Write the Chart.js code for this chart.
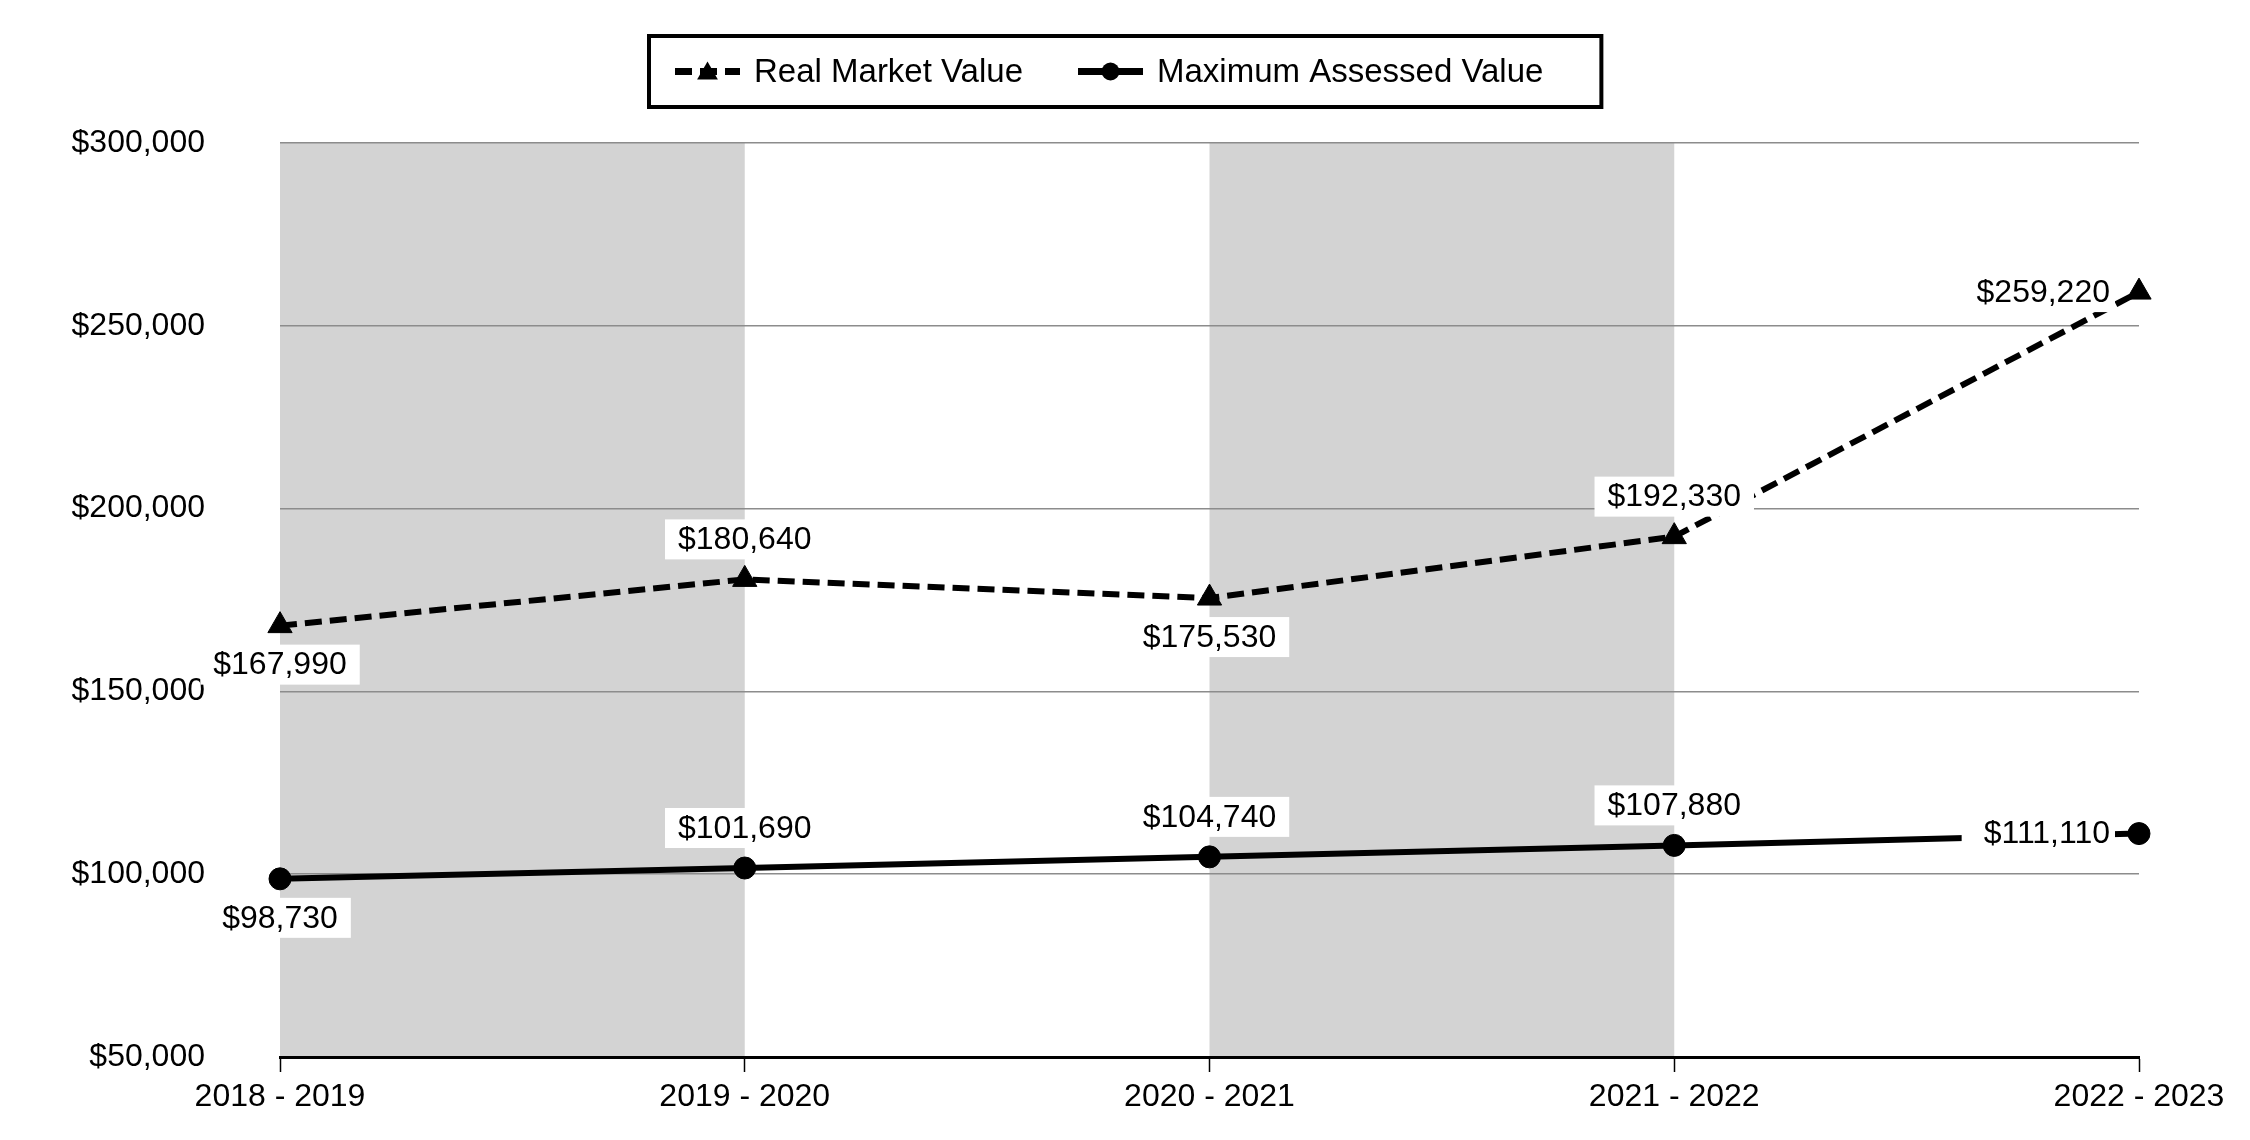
<!DOCTYPE html>
<html>
<head>
<meta charset="utf-8">
<script src="https://cdn.jsdelivr.net/npm/chart.js@4.4.1/dist/chart.umd.min.js"></script>
<style>
    html, body { margin: 0; padding: 0; background: #fff; }
    #wrap { width: 2250px; height: 1140px; }
</style>
</head>
<body>
<div id="wrap"><canvas id="valueChart" width="2250" height="1140"></canvas></div>
<script>
// Data yang dibaca dari gambar
const yearLabels = ['2018 - 2019', '2019 - 2020', '2020 - 2021', '2021 - 2022', '2022 - 2023'];
const realMarketValue = [167990, 180640, 175530, 192330, 259220];
const maxAssessedValue = [98730, 101690, 104740, 107880, 111110];
const yTicks = [50000, 100000, 150000, 200000, 250000, 300000];
// Kolom yang diberi latar abu-abu (indeks awal kolom)
const shadedBands = [0, 2];
// Letak label nilai untuk tiap titik
const rmvLabelPos = ['below', 'above', 'below', 'above', 'left'];
const mavLabelPos = ['below', 'above', 'above', 'above', 'left'];

const FONT = '"Liberation Sans", Arial, sans-serif';

function money(v) {
    return '$' + v.toLocaleString('en-US');
}

// Latar abu-abu selang-seling di belakang grid
const columnShading = {
    id: 'columnShading',
    beforeDraw(chart) {
        const { ctx, chartArea, scales: { x } } = chart;
        ctx.save();
        ctx.fillStyle = '#d3d3d3';
        shadedBands.forEach(i => {
            const x0 = x.getPixelForValue(i);
            const x1 = x.getPixelForValue(i + 1);
            ctx.fillRect(x0, chartArea.top, x1 - x0, chartArea.bottom - chartArea.top);
        });
        ctx.restore();
    }
};

// Label nilai dengan kotak putih
const valueLabels = {
    id: 'valueLabels',
    afterDatasetsDraw(chart) {
        const ctx = chart.ctx;
        ctx.save();
        ctx.font = '32px ' + FONT;
        ctx.textBaseline = 'middle';
        ctx.textAlign = 'center';
        chart.data.datasets.forEach((ds, di) => {
            const meta = chart.getDatasetMeta(di);
            meta.data.forEach((pt, i) => {
                const text = money(ds.data[i]);
                const w = ctx.measureText(text).width;
                const place = ds.labelPos[i];
                let cx = pt.x, cy = pt.y;
                let padL = 13, padR = 13;
                if (place === 'above') cy -= 40;
                else if (place === 'below') cy += 39;
                else if (place === 'left') {
                    cx = pt.x - 29 - w / 2;
                    padL = 22;
                    padR = 5;
                }
                ctx.fillStyle = '#fff';
                ctx.fillRect(cx - w / 2 - padL, cy - 20, w + padL + padR, 40);
                ctx.fillStyle = '#000';
                ctx.fillText(text, cx, cy + 1);
            });
        });
        ctx.restore();
    }
};

function drawMarker(ctx, style, x, y, r) {
    ctx.beginPath();
    if (style === 'triangle') {
        ctx.moveTo(x, y - r);
        ctx.lineTo(x + r * 0.866, y + r / 2);
        ctx.lineTo(x - r * 0.866, y + r / 2);
        ctx.closePath();
    } else {
        ctx.arc(x, y, r, 0, Math.PI * 2);
    }
    ctx.fill();
}

// Legenda dengan bingkai hitam
const boxLegend = {
    id: 'boxLegend',
    afterDraw(chart) {
        const ctx = chart.ctx;
        const sets = chart.data.datasets;
        const iconW = 65, iconGap = 14, itemGap = 55, padL = 26, padR = 58;
        const top = 36, height = 71;
        ctx.save();
        ctx.font = '33px ' + FONT;
        const widths = sets.map(ds => ctx.measureText(ds.label).width);
        const total = padL + padR + itemGap * (sets.length - 1) +
            widths.reduce((s, w) => s + iconW + iconGap + w, 0);
        const left = Math.round(chart.width / 2 - total / 2);
        const cy = top + height / 2;

        ctx.fillStyle = '#fff';
        ctx.fillRect(left, top, total, height);
        ctx.strokeStyle = '#000';
        ctx.lineWidth = 4;
        ctx.strokeRect(left, top, total, height);

        let x = left + padL;
        sets.forEach((ds, i) => {
            ctx.strokeStyle = '#000';
            ctx.lineWidth = 7;
            ctx.setLineDash(ds.borderDash || []);
            ctx.beginPath();
            ctx.moveTo(x, cy);
            ctx.lineTo(x + iconW, cy);
            ctx.stroke();
            ctx.setLineDash([]);
            ctx.fillStyle = '#000';
            drawMarker(ctx, ds.pointStyle, x + iconW / 2, cy + (ds.pointStyle === 'triangle' ? 2 : 0),
                ds.pointStyle === 'triangle' ? 12 : 9);
            ctx.textBaseline = 'middle';
            ctx.textAlign = 'left';
            ctx.fillText(ds.label, x + iconW + iconGap, cy + 1);
            x += iconW + iconGap + widths[i] + itemGap;
        });
        ctx.restore();
    }
};

const ctx = document.getElementById('valueChart').getContext('2d');
window.valueChart = new Chart(ctx, {
    type: 'line',
    data: {
        labels: yearLabels,
        datasets: [{
            label: 'Real Market Value',
            data: realMarketValue,
            labelPos: rmvLabelPos,
            borderColor: '#000',
            borderWidth: 6,
            borderDash: [17, 8],
            pointStyle: 'triangle',
            pointRadius: 14,
            pointBackgroundColor: '#000',
            pointBorderColor: '#000',
            pointBorderWidth: 1,
            tension: 0,
            fill: false
        }, {
            label: 'Maximum Assessed Value',
            data: maxAssessedValue,
            labelPos: mavLabelPos,
            borderColor: '#000',
            borderWidth: 6,
            pointStyle: 'circle',
            pointRadius: 11,
            pointBackgroundColor: '#000',
            pointBorderColor: '#000',
            pointBorderWidth: 1,
            tension: 0,
            fill: false
        }]
    },
    options: {
        responsive: false,
        animation: false,
        devicePixelRatio: 1,
        layout: {
            padding: { top: 143, right: 111, bottom: 0, left: 0 }
        },
        plugins: {
            legend: { display: false },
            tooltip: { enabled: false }
        },
        scales: {
            x: {
                offset: false,
                grid: {
                    drawOnChartArea: false,
                    drawTicks: true,
                    tickLength: 15,
                    tickColor: '#000',
                    tickWidth: 1.5
                },
                border: { display: true, color: '#000', width: 3 },
                ticks: {
                    color: '#000',
                    font: { family: FONT, size: 32 },
                    padding: 6,
                    maxRotation: 0,
                    autoSkip: false
                },
                afterFit(scale) { scale.height = 83; }
            },
            y: {
                min: yTicks[0],
                max: yTicks[yTicks.length - 1],
                afterBuildTicks(scale) {
                    scale.ticks = yTicks.map(v => ({ value: v }));
                },
                ticks: {
                    color: '#000',
                    padding: 5,
                    font: { family: FONT, size: 32 },
                    callback: v => money(v)
                },
                grid: {
                    drawTicks: true,
                    tickLength: 70,
                    tickColor: 'rgba(0,0,0,0)',
                    lineWidth: 1.5,
                    color: c => (c.tick && c.tick.value === yTicks[0]) ? 'rgba(0,0,0,0)' : '#8c8c8c'
                },
                border: { display: false },
                afterFit(scale) { scale.width = 280; }
            }
        }
    },
    plugins: [columnShading, valueLabels, boxLegend]
});
</script>
</body>
</html>
